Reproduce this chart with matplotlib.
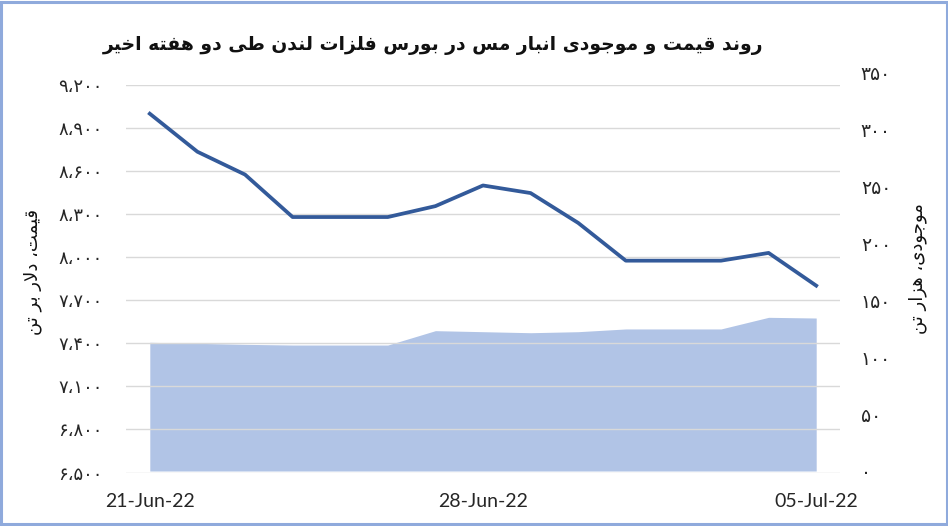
import matplotlib
matplotlib.use('Agg')
import matplotlib.pyplot as plt
import matplotlib.dates as mdates
from matplotlib.patches import Rectangle
import pandas as pd

# data
dates = ['2022-06-21', '2022-06-22', '2022-06-23', '2022-06-24', '2022-06-25',
         '2022-06-26', '2022-06-27', '2022-06-28', '2022-06-29', '2022-06-30',
         '2022-07-01', '2022-07-02', '2022-07-03', '2022-07-04', '2022-07-05']
price = [9000, 8735, 8576, 8280, 8280, 8280, 8356, 8500, 8447, 8239,
         7976, 7976, 7976, 8030, 7802]
stock = [112.9, 112.0, 111.1, 110.5, 110.5, 110.5, 123.1, 122.2, 121.3, 122.2,
         124.6, 124.6, 124.6, 134.8, 134.2]
price_ticks = [6500, 6800, 7100, 7400, 7700, 8000, 8300, 8600, 8900, 9200]
stock_ticks = [0, 50, 100, 150, 200, 250, 300, 350]
xtick_dates = ['2022-06-21', '2022-06-28', '2022-07-05']

title = 'روند قیمت و موجودی انبار مس در بورس فلزات لندن طی دو هفته اخیر'
left_label = 'قیمت، دلار بر تن'
right_label = 'موجودی، هزار تن'

# arabic presentation forms: isolated, final, initial, medial
FORMS = {
    'ا': ('\uFE8D', '\uFE8E', None, None),
    'ب': ('\uFE8F', '\uFE90', '\uFE91', '\uFE92'),
    'ت': ('\uFE95', '\uFE96', '\uFE97', '\uFE98'),
    'ج': ('\uFE9D', '\uFE9E', '\uFE9F', '\uFEA0'),
    'خ': ('\uFEA5', '\uFEA6', '\uFEA7', '\uFEA8'),
    'د': ('\uFEA9', '\uFEAA', None, None),
    'ر': ('\uFEAD', '\uFEAE', None, None),
    'ز': ('\uFEAF', '\uFEB0', None, None),
    'س': ('\uFEB1', '\uFEB2', '\uFEB3', '\uFEB4'),
    'ط': ('\uFEC1', '\uFEC2', '\uFEC3', '\uFEC4'),
    'ف': ('\uFED1', '\uFED2', '\uFED3', '\uFED4'),
    'ق': ('\uFED5', '\uFED6', '\uFED7', '\uFED8'),
    'ل': ('\uFEDD', '\uFEDE', '\uFEDF', '\uFEE0'),
    'م': ('\uFEE1', '\uFEE2', '\uFEE3', '\uFEE4'),
    'ن': ('\uFEE5', '\uFEE6', '\uFEE7', '\uFEE8'),
    'ه': ('\uFEE9', '\uFEEA', '\uFEEB', '\uFEEC'),
    'و': ('\uFEED', '\uFEEE', None, None),
    'ی': ('\uFBFC', '\uFBFD', '\uFBFE', '\uFBFF'),
}


def dual(c):
    return c in FORMS and FORMS[c][2] is not None


def shape(text):
    out = []
    n = len(text)
    i = 0
    while i < n:
        c = text[i]
        if c not in FORMS:
            out.append(c)
            i += 1
            continue
        joins_prev = i > 0 and dual(text[i-1])
        if c == 'ل' and i+1 < n and text[i+1] == 'ا':
            out.append('\uFEFC' if joins_prev else '\uFEFB')
            i += 2
            continue
        joins_next = dual(c) and i+1 < n and text[i+1] in FORMS
        isol, fin, ini, med = FORMS[c]
        if joins_prev and joins_next:
            out.append(med)
        elif joins_prev:
            out.append(fin)
        elif joins_next:
            out.append(ini)
        else:
            out.append(isol)
        i += 1
    return ''.join(reversed(out))


def fa_num(v):
    s = '{:,}'.format(v).replace(',', '،')
    return s.translate(str.maketrans('0123456789', '۰۱۲۳۴۵۶۷۸۹'))


x = pd.to_datetime(dates)
W, H = 948, 526

fig = plt.figure(figsize=(9.48, 5.26), dpi=100)
fig.patches.append(Rectangle((0.0015, 0.003), 0.997, 0.994, transform=fig.transFigure,
                             fill=False, edgecolor='#8FAADC', linewidth=2.2))

# right axis in the reference spans a slightly taller range (y 72..471 px)
ax2 = fig.add_axes([126 / W, 1 - 471 / H, 714 / W, 399 / H])
ax = fig.add_axes([126 / W, 1 - 472.5 / H, 714 / W, 387.5 / H], sharex=ax2)
ax.patch.set_visible(False)

# stock area on right axis
ax2.fill_between(x, 0, stock, color='#B1C4E6', linewidth=0)
ax2.set_ylim(0, 350)
ax2.yaxis.tick_right()
ax2.set_yticks(stock_ticks)
ax2.set_yticklabels([fa_num(v) for v in stock_ticks], family='DejaVu Sans', fontsize=13.5)
ax2.tick_params(axis='x', bottom=False, labelbottom=False)

# price line on left axis
ax.plot(x, price, color='#335A9A', linewidth=2.7, solid_joinstyle='round')
ax.set_ylim(6500, 9200)
ax.set_yticks(price_ticks)
ax.set_yticklabels([fa_num(v) for v in price_ticks], family='DejaVu Sans', fontsize=13)
ax.grid(axis='y', color='#D9D9D9', linewidth=1)

ax.set_xlim(x[0] - pd.Timedelta(hours=12), x[-1] + pd.Timedelta(hours=12))
ax.set_xticks(pd.to_datetime(xtick_dates))
ax.xaxis.set_major_formatter(mdates.DateFormatter('%d-%b-%y'))
for lab in ax.get_xticklabels():
    lab.set_family('Lato')
    lab.set_fontsize(14)

for a in (ax, ax2):
    for sp in a.spines.values():
        sp.set_visible(False)
    a.tick_params(length=0, colors='#262626')
ax.tick_params(axis='y', pad=17)
ax2.tick_params(axis='y', pad=15)
ax.tick_params(axis='x', pad=15)

fig.text(0.457, 0.914, shape(title), ha='center', va='center',
         family='DejaVu Sans', fontweight='bold', fontsize=13.5, color='#111111')
fig.text(0.034, 0.483, shape(left_label), rotation=90, ha='center', va='center',
         family='DejaVu Sans', fontsize=13, color='#111111')
fig.text(0.968, 0.490, shape(right_label), rotation=90, ha='center', va='center',
         family='DejaVu Sans', fontsize=13, color='#111111')

fig.savefig('out.png', dpi=100)
